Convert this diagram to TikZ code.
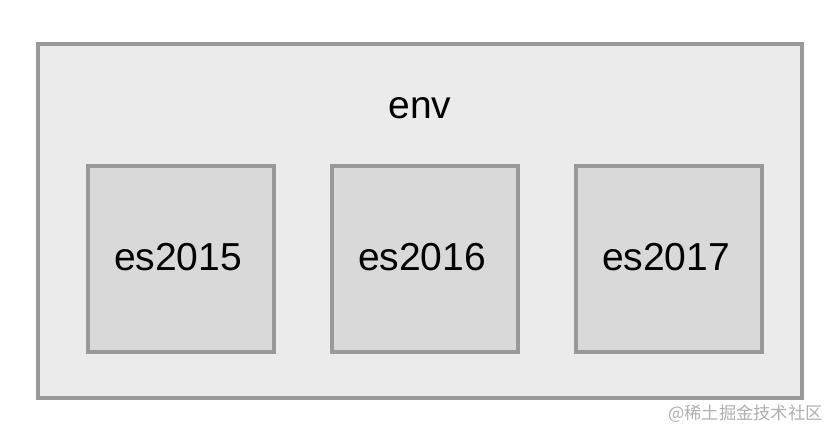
\documentclass[tikz,border=0pt]{standalone}
\usepackage{fontspec}
\setmainfont{Liberation Sans}
\newfontfamily\cjk{Noto Sans CJK SC}
\definecolor{outerfill}{HTML}{EBEBEB}
\definecolor{innerfill}{HTML}{D9D9D9}
\definecolor{edgegray}{HTML}{999999}
\definecolor{wmgray}{HTML}{B0B0B0}
\begin{document}
\begin{tikzpicture}[x=1pt,y=-1pt,
  outerbox/.style={draw=edgegray,fill=outerfill,line width=4pt,inner sep=0pt,outer sep=0pt,minimum width=764pt,minimum height=354pt},
  esbox/.style={draw=edgegray,fill=innerfill,line width=4pt,inner sep=0pt,outer sep=0pt,minimum width=186pt,minimum height=186pt},
  lbl/.style={font=\fontsize{39}{44}\selectfont,anchor=base,inner sep=0pt}]
\useasboundingbox (0,0) rectangle (840,440);
\fill[white] (0,0) rectangle (840,440);
\node[outerbox] (outer) at (420,221) {};
\node[lbl] (env) at (420,118) {env};
\node[esbox] (boxa) at (181,259) {};
\node[esbox] (boxb) at (425,259) {};
\node[esbox] (boxc) at (669,259) {};
\node[lbl] (a) at (178,270) {es2015};
\node[lbl] (b) at (422,270) {es2016};
\node[lbl] (c) at (666,270) {es2017};
\node[font=\cjk\fontsize{17.3}{19}\selectfont,text=wmgray,anchor=east,inner sep=0pt] (wm) at (823,414) {@稀土掘金技术社区};
\end{tikzpicture}
\end{document}
